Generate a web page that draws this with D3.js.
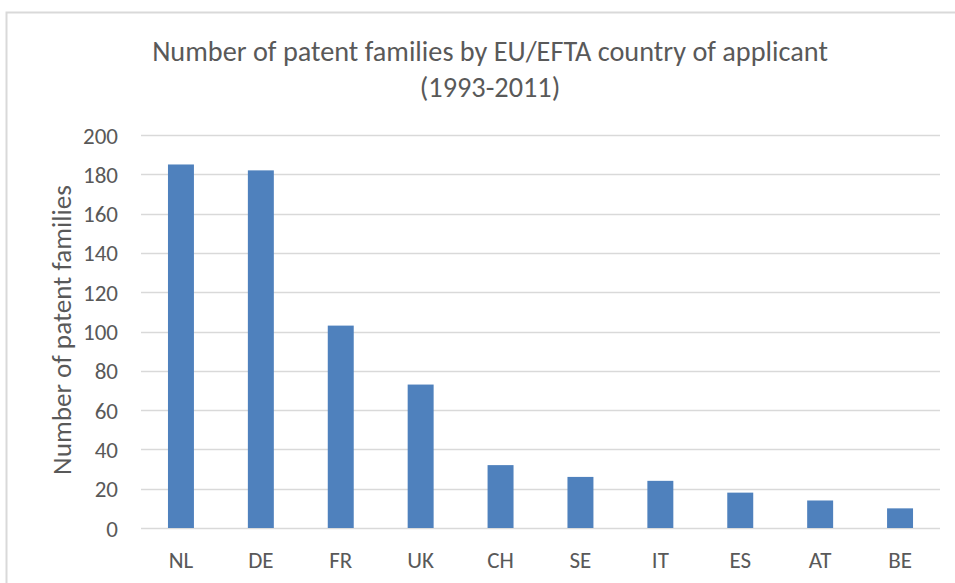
<!DOCTYPE html>
<html>
<head>
<meta charset="utf-8">
<script src="https://cdn.jsdelivr.net/npm/d3@7"></script>
<style>
  body { margin: 0; background: #fff; }
  svg { display: block; }
  text { font-family: Carlito, Calibri, "Open Sans", sans-serif; fill: #595959; }
</style>
</head>
<body>
<div id="chart"></div>
<script>
// values
const countries = ["NL", "DE", "FR", "UK", "CH", "SE", "IT", "ES", "AT", "BE"];
const families = [185, 182, 103, 73, 32, 26, 24, 18, 14, 10];
const yTicks = [0, 20, 40, 60, 80, 100, 120, 140, 160, 180, 200];
const titleLines = ["Number of patent families by EU/EFTA country of applicant", "(1993-2011)"];
const yLabel = "Number of patent families";

const outerWidth = 955, outerHeight = 583;
const margin = {top: 135, right: 15, bottom: 55, left: 141};
const height = 528 - margin.top;

const svg = d3.select("#chart").append("svg")
    .attr("width", outerWidth)
    .attr("height", outerHeight);

// chart area border (only top and left show in the crop)
svg.append("rect")
    .attr("x", 6.5).attr("y", 12.5)
    .attr("width", outerWidth).attr("height", outerHeight)
    .attr("fill", "none")
    .attr("stroke", "#d9d9d9")
    .attr("stroke-width", 2);

const g = svg.append("g")
    .attr("transform", "translate(" + margin.left + "," + margin.top + ")");

const xScale = d3.scaleBand()
    .domain(countries)
    .range([0, 799])
    .paddingInner(0.675)
    .paddingOuter(0.3375);

const yScale = d3.scaleLinear()
    .domain([0, 200])
    .range([height, 0]);

// gridlines
g.append("g")
    .attr("class", "grid")
  .selectAll("line")
  .data(yTicks)
  .enter().append("line")
    .attr("x1", 0).attr("x2", 799)
    .attr("y1", d => Math.round(yScale(d)) + 0.5)
    .attr("y2", d => Math.round(yScale(d)) + 0.5)
    .attr("stroke", "#d9d9d9")
    .attr("stroke-width", 1.3);

// bars
g.append("g")
    .attr("class", "bars")
  .selectAll("rect")
  .data(families)
  .enter().append("rect")
    .attr("x", (d, i) => xScale(countries[i]))
    .attr("y", d => yScale(d))
    .attr("width", xScale.bandwidth())
    .attr("height", d => yScale(0) - yScale(d))
    .attr("fill", "#4f81bd");

// y axis
const yAxis = d3.axisLeft(yScale).tickValues(yTicks).tickSize(0).tickPadding(23);
const yAxisG = g.append("g").attr("class", "axis axis--y").call(yAxis);
yAxisG.select(".domain").remove();
yAxisG.selectAll("text")
    .attr("font-size", 23)
    .attr("dy", "0.35em")
    .attr("fill", "#595959");

// x axis
const xAxis = d3.axisBottom(xScale).tickSize(0).tickPadding(24);
const xAxisG = g.append("g")
    .attr("class", "axis axis--x")
    .attr("transform", "translate(0," + height + ")")
    .call(xAxis);
xAxisG.select(".domain").remove();
xAxisG.selectAll("text")
    .attr("font-size", 23)
    .attr("dy", "0.71em")
    .attr("fill", "#595959");
svg.selectAll(".axis").attr("font-family", null);

// title
const title = svg.append("g").attr("class", "title");
title.selectAll("text")
  .data(titleLines)
  .enter().append("text")
    .attr("x", 490)
    .attr("y", (d, i) => 61 + i * 36)
    .attr("text-anchor", "middle")
    .attr("font-size", 23)
    .text(d => d);

// fit the title width to the reference (about 676px for the first line)
const firstLine = title.select("text").node();
const w = firstLine.getComputedTextLength();
if (w > 0) {
  title.selectAll("text").attr("font-size", 23 * 676 / w);
}

// y label
const yl = svg.append("text")
    .attr("class", "y label")
    .attr("text-anchor", "middle")
    .attr("transform", "translate(71," + 330 + ") rotate(-90)")
    .attr("font-size", 22)
    .text(yLabel);
const wl = yl.node().getComputedTextLength();
if (wl > 0) {
  yl.attr("font-size", 22 * 290 / wl);
}
</script>
</body>
</html>
